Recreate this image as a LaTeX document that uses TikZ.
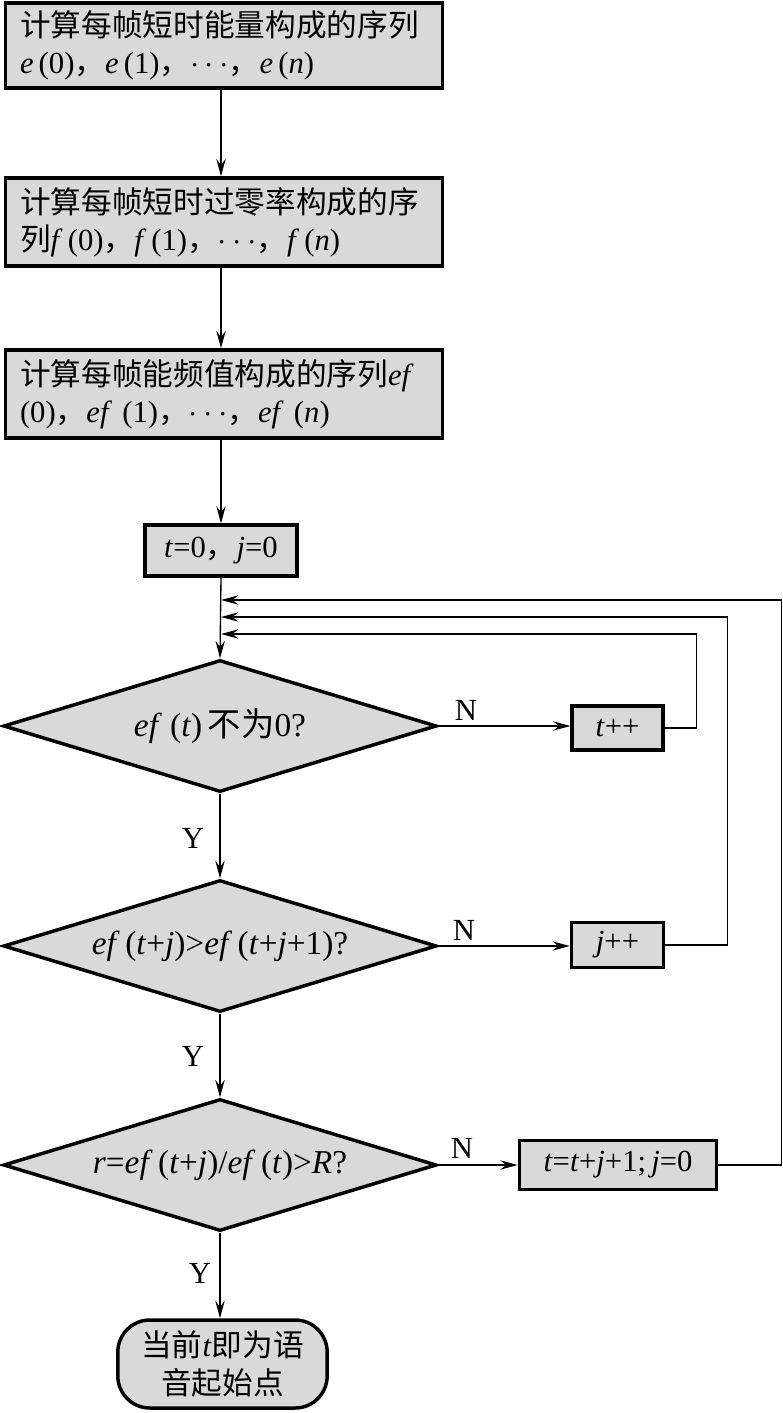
\documentclass[tikz,border=0pt]{standalone}
\usepackage{fontspec}
\setmainfont{Liberation Serif}
\newfontfamily\cjk{Noto Sans CJK SC}
\usetikzlibrary{arrows.meta,positioning,shapes.geometric}
\newcommand\zh[1]{{\cjk #1}}
\newcommand\vi[1]{\textit{#1}}
\definecolor{clFill}{gray}{0.85}
\tikzset{
  box/.style={rectangle, draw, line width=2.6pt, fill=clFill, inner sep=0pt,
              font=\fontsize{23}{28}\selectfont},
  procbox/.style={box, align=left, text width=306pt, minimum width=328pt},
  smallbox/.style={box, align=center},
  decision/.style={diamond, aspect=3.3, draw, line width=2.6pt, fill=clFill, inner sep=0pt,
                   minimum width=325pt, minimum height=99pt, font=\fontsize{25}{30}\selectfont},
  terminal/.style={box, rounded corners=24pt, align=center},
  flow/.style={-{Stealth[length=13pt, width=7pt, inset=4.5pt]}, line width=1pt},
  yn/.style={font=\fontsize{23}{28}\selectfont},
}
\begin{document}
\begin{tikzpicture}[x=0.75pt, y=-0.75pt]
  \useasboundingbox (0,0) rectangle (782,1413);
  % main column
  \node[procbox, minimum height=64pt] (energy) at (224,45.5)
    {\zh{计算每帧短时能量构成的序列}\\\vi{e}\,(0)\zh{，}\vi{e}\,(1)\zh{，}$\cdots$\zh{，}\vi{e}\,(\vi{n})};
  \node[procbox, minimum height=66pt] (zcr) at (224,222)
    {\zh{计算每帧短时过零率构成的序}\\\zh{列}\vi{f}\,(0)\zh{，}\vi{f}\,(1)\zh{，}$\cdots$\zh{，}\vi{f}\,(\vi{n})};
  \node[procbox, minimum height=66pt] (ef) at (224,394)
    {\zh{计算每帧能频值构成的序列}\vi{ef}\\(0)\zh{，}\vi{ef}~(1)\zh{，}$\cdots$\zh{，}\vi{ef}~(\vi{n})};
  \node[smallbox, minimum width=114pt, minimum height=38pt] (init) at (221,550.5)
    {\vi{t}=0\zh{，}\vi{j}=0};
  \node[decision] (nonzero) at (220,726) {\vi{ef}~(\vi{t})\,\zh{不为}0?};
  \node[decision] (decrease) at (220,946) {\vi{ef}\,(\vi{t}+\vi{j})>\vi{ef}\,(\vi{t}+\vi{j}+1)?};
  \node[decision] (ratio) at (220,1165) {\vi{r}=\vi{ef}\,(\vi{t}+\vi{j})/\vi{ef}\,(\vi{t})>\vi{R}?};
  \node[terminal, minimum width=157pt, minimum height=66pt] (start) at (222.5,1364)
    {\zh{当前}\vi{t}\zh{即为语}\\\zh{音起始点}};
  % right column
  \node[smallbox, minimum width=68pt, minimum height=33pt] (tinc) at (617.5,728) {\vi{t}++};
  \node[smallbox, minimum width=69pt, minimum height=34pt] (jinc) at (617.5,945) {\vi{j}++};
  \node[smallbox, minimum width=148pt, minimum height=37pt] (reset) at (618,1165)
    {\vi{t}=\vi{t}+\vi{j}+1;\,\vi{j}=0};
  % return points
  \coordinate (back1) at (221,634);
  \coordinate (back2) at (221,617);
  \coordinate (back3) at (221,600);
  % connectors
  \draw[flow] (energy.south -| init) -- (zcr.north -| init);
  \draw[flow] (zcr.south -| init) -- (ef.north -| init);
  \draw[flow] (ef.south -| init) -- (init.north);
  \draw[flow] (init.south) -- (nonzero.north);
  \draw[flow] (nonzero.south) -- (decrease.north);
  \draw[flow] (decrease.south) -- (ratio.north);
  \draw[flow] (ratio.south) -- (ratio.south |- start.north);
  \draw[flow] (nonzero.east) -- (nonzero.east -| tinc.west);
  \draw[flow] (decrease.east) -- (decrease.east -| jinc.west);
  \draw[flow] (ratio.east) -- (reset.west);
  \draw[flow] (tinc.east) -- ++(32,0) |- (back1);
  \draw[flow] (jinc.east) -- ++(62,0) |- (back2);
  \draw[flow] (reset.east) -- ++(63,0) |- (back3);
  % labels
  \node[yn] (n1) at (466,710) {N};
  \node[yn] (n2) at (464,930) {N};
  \node[yn] (n3) at (462,1148) {N};
  \node[yn] (y1) at (193,838) {Y};
  \node[yn] (y2) at (193,1056) {Y};
  \node[yn] (y3) at (200,1273) {Y};
\end{tikzpicture}
\end{document}
